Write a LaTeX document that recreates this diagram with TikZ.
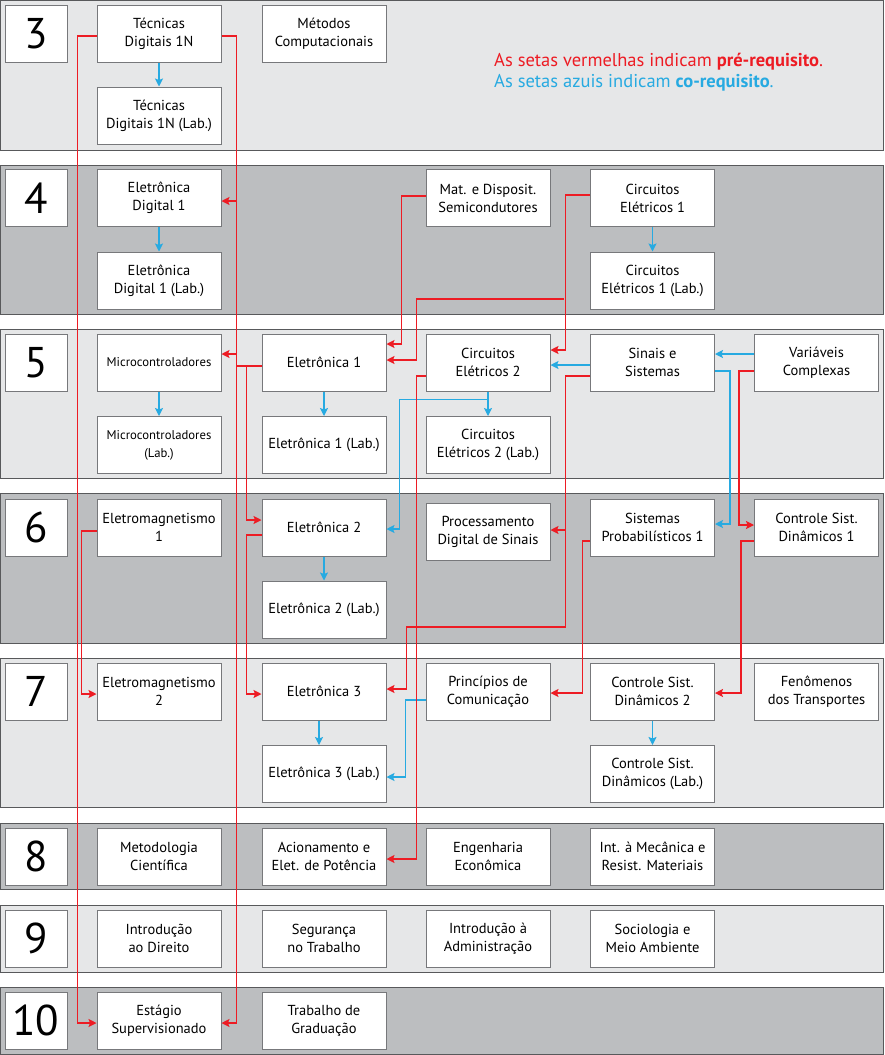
\documentclass[tikz,border=0pt]{standalone}
\usepackage{fontspec}
\setmainfont{PT Sans}
\usetikzlibrary{arrows.meta}

\definecolor{prered}{HTML}{ED1C24}
\definecolor{coblue}{HTML}{27AAE1}
\definecolor{bandlight}{HTML}{E6E7E8}
\definecolor{banddark}{HTML}{BCBEC0}
\definecolor{boxline}{HTML}{77787B}
\definecolor{bandline}{HTML}{58595B}

\tikzset{
  course/.style={draw=boxline, fill=white, line width=1pt, minimum width=124pt,
    minimum height=57pt, inner sep=1pt, align=center,
    font=\fontsize{14.5}{18}\selectfont},
  semnum/.style={course, minimum width=62pt, font=\fontsize{43}{43}\selectfont},
  preline/.style={draw=prered, line width=1.2pt},
  pre/.style={preline, -{Stealth[length=8pt,width=8pt,inset=1.5pt]}},
  co/.style={draw=coblue, line width=1.2pt, -{Stealth[length=8pt,width=8pt,inset=1.5pt]}},
}

\begin{document}
\begin{tikzpicture}[x=1pt,y=-1pt]
  \useasboundingbox (0,0) rectangle (884,1055);

  \foreach \top/\bot/\shade in {0/150/bandlight, 165/314/banddark, 329/478/bandlight,
      493/643/banddark, 658/807/bandlight, 823/889/banddark, 905/972/bandlight,
      987/1054/banddark}
    \filldraw[fill=\shade, draw=bandline, line width=1pt] (0.5,\top+0.5) rectangle (883.5,\bot);

  % semestre 3
  \node[semnum] (s3) at (36,33.5) {3};
  \node[course] (td1n) at (159,33.5) {Técnicas\\Digitais 1N};
  \node[course] (metcomp) at (324,33.5) {Métodos\\Computacionais};
  \node[course] (td1nlab) at (159,115.5) {Técnicas\\Digitais 1N (Lab.)};
  \node[anchor=west, inner sep=0, text=prered, font=\fontsize{18.5}{18.5}\selectfont] (legpre)
    at (494,62) {As setas vermelhas indicam \textbf{pré-requisito}.};
  \node[anchor=west, inner sep=0, text=coblue, font=\fontsize{18.5}{18.5}\selectfont] (legco)
    at (494,83) {As setas azuis indicam \textbf{co-requisito}.};

  % semestre 4
  \node[semnum] (s4) at (36,198) {4};
  \node[course] (eldig) at (159,198) {Eletrônica\\Digital 1};
  \node[course] (matsemi) at (488,198) {Mat. e Disposit.\\Semicondutores};
  \node[course] (circ1) at (652.5,198) {Circuitos\\Elétricos 1};
  \node[course] (eldiglab) at (159,280.5) {Eletrônica\\Digital 1 (Lab.)};
  \node[course] (circ1lab) at (652.5,280.5) {Circuitos\\Elétricos 1 (Lab.)};

  % semestre 5
  \node[semnum] (s5) at (36,362.5) {5};
  \node[course, font=\fontsize{12.7}{18}\selectfont] (micro) at (159,362.5) {Microcontroladores};
  \node[course] (elet1) at (324,362.5) {Eletrônica 1};
  \node[course] (circ2) at (488,362.5) {Circuitos\\Elétricos 2};
  \node[course] (sinais) at (652.5,362.5) {Sinais e\\Sistemas};
  \node[course] (varcomp) at (816.5,362.5) {Variáveis\\Complexas};
  \node[course, font=\fontsize{12.7}{18}\selectfont] (microlab) at (159,445) {Microcontroladores\\(Lab.)};
  \node[course] (elet1lab) at (324,445) {Eletrônica 1 (Lab.)};
  \node[course] (circ2lab) at (488,445) {Circuitos\\Elétricos 2 (Lab.)};

  % semestre 6
  \node[semnum] (s6) at (36,527.5) {6};
  \node[course] (emag1) at (159,527.5) {Eletromagnetismo\\1};
  \node[course] (elet2) at (324,527.5) {Eletrônica 2};
  \node[course] (pds) at (488,532) {Processamento\\Digital de Sinais};
  \node[course] (probab) at (652.5,527.5) {Sistemas\\Probabilísticos 1};
  \node[course] (ctrl1) at (816.5,527.5) {Controle Sist.\\Dinâmicos 1};
  \node[course] (elet2lab) at (324,609.5) {Eletrônica 2 (Lab.)};

  % semestre 7
  \node[semnum] (s7) at (36,691.5) {7};
  \node[course] (emag2) at (159,691.5) {Eletromagnetismo\\2};
  \node[course] (elet3) at (324,691.5) {Eletrônica 3};
  \node[course] (princom) at (488,691.5) {Princípios de\\Comunicação};
  \node[course] (ctrl2) at (652.5,691.5) {Controle Sist.\\Dinâmicos 2};
  \node[course] (fenom) at (816.5,691.5) {Fenômenos\\dos Transportes};
  \node[course] (elet3lab) at (324,774) {Eletrônica 3 (Lab.)};
  \node[course] (ctrllab) at (652.5,774) {Controle Sist.\\Dinâmicos (Lab.)};

  % semestres 8, 9 e 10
  \node[semnum] (s8) at (36,856.5) {8};
  \node[course] (metod) at (159,856.5) {Metodologia\\Científica};
  \node[course] (acion) at (324,856.5) {Acionamento e\\Elet. de Potência};
  \node[course] (engeco) at (488,856.5) {Engenharia\\Econômica};
  \node[course] (mecres) at (652.5,856.5) {Int. à Mecânica e\\Resist. Materiais};

  \node[semnum] (s9) at (36,938.5) {9};
  \node[course] (direito) at (159,938.5) {Introdução\\ao Direito};
  \node[course] (segur) at (324,938.5) {Segurança\\no Trabalho};
  \node[course] (admin) at (488,938.5) {Introdução à\\Administração};
  \node[course] (socio) at (652.5,938.5) {Sociologia e\\Meio Ambiente};

  \node[semnum] (s10) at (36,1020.5) {10};
  \node[course] (estagio) at (159,1020.5) {Estágio\\Supervisionado};
  \node[course] (tcc) at (324,1020.5) {Trabalho de\\Graduação};

  % co-requisitos
  \draw[co] (td1n) -- (td1nlab);
  \draw[co] (eldig) -- (eldiglab);
  \draw[co] (circ1) -- (circ1lab);
  \draw[co] (micro) -- (microlab);
  \draw[co] (elet1) -- (elet1lab);
  \draw[co] (circ2) -- (circ2lab);
  \draw[co] (elet2) -- (elet2lab);
  \draw[co] ([xshift=-5pt]elet3.south) -- ([xshift=-5pt]elet3lab.north);
  \draw[co] (ctrl2) -- (ctrllab);
  \draw[co] ([yshift=8.5pt]varcomp.west) -- ([yshift=8.5pt]sinais.east);
  \draw[co] ([yshift=-2.5pt]sinais.west) -- ([yshift=-2.5pt]circ2.east);
  \draw[co] ([yshift=-8.5pt]sinais.east) -| ([xshift=15pt,yshift=3.5pt]probab.east)
    -- ([yshift=3.5pt]probab.east);
  \draw[co] (circ2.south) -- ++(0,8) -| ([xshift=13pt,yshift=-1.5pt]elet2.east)
    -- ([yshift=-1.5pt]elet2.east);
  \draw[co] ([yshift=-8.5pt]princom.west) -| ([xshift=19pt,yshift=-3pt]elet3lab.east)
    -- ([yshift=-3pt]elet3lab.east);

  % pre-requisitos
  \draw[pre] ([yshift=-2.5pt]td1n.west) -| ([xshift=-19pt,yshift=-2.5pt]estagio.west)
    -- ([yshift=-2.5pt]estagio.west);
  \draw[pre] ([yshift=-2.5pt]td1n.east) -| ([xshift=15pt,yshift=-2.5pt]estagio.east)
    -- ([yshift=-2.5pt]estagio.east);
  \draw[pre] ([xshift=15pt,yshift=-3pt]eldig.east) -- ([yshift=-3pt]eldig.east);
  \draw[pre] ([xshift=15pt,yshift=8.5pt]micro.east) -- ([yshift=8.5pt]micro.east);
  \draw[pre] ([yshift=2pt]matsemi.west) -| ([xshift=15pt,yshift=18.5pt]elet1.east)
    -- ([yshift=18.5pt]elet1.east);
  \draw[pre] ([yshift=3pt]circ1.west) -| ([xshift=15pt,yshift=12.5pt]circ2.east)
    -- ([yshift=12.5pt]circ2.east);
  \draw[pre] ([xshift=-26pt,yshift=-101pt]circ1.west) -| ([xshift=30pt,yshift=2.5pt]elet1.east)
    -- ([yshift=2.5pt]elet1.east);
  \draw[preline] ([yshift=-3.5pt]elet1.west) -- ++(-26,0);
  \draw[pre] ([yshift=-3.5pt]elet1.west) -| ([xshift=-15pt,yshift=7.5pt]elet2.west)
    -- ([yshift=7.5pt]elet2.west);
  \draw[pre] ([yshift=-7.5pt]elet2.west) -| ([xshift=-15pt,yshift=-2.5pt]elet3.west)
    -- ([yshift=-2.5pt]elet3.west);
  \draw[pre] ([yshift=-3.5pt]emag1.west) -| ([xshift=-15pt,yshift=-2.5pt]emag2.west)
    -- ([yshift=-2.5pt]emag2.west);
  \draw[pre] ([yshift=-13.5pt]circ2.west) -| ([xshift=30pt,yshift=-2.5pt]acion.east)
    -- ([yshift=-2.5pt]acion.east);
  \draw[pre] ([yshift=-13.5pt]sinais.west) -| ([xshift=15pt,yshift=2pt]pds.east)
    -- ([yshift=2pt]pds.east);
  \draw[pre] ([yshift=-13.5pt]sinais.west) -| ([xshift=15pt,yshift=-95pt]pds.east)
    -| ([xshift=20pt,yshift=2.5pt]elet3.east) -- ([yshift=2.5pt]elet3.east);
  \draw[pre] ([yshift=-8.5pt]varcomp.west) -| ([xshift=-15pt,yshift=2.5pt]ctrl1.west)
    -- ([yshift=2.5pt]ctrl1.west);
  \draw[pre] ([yshift=-13.5pt]probab.west) -| ([xshift=32pt,yshift=-1.5pt]princom.east)
    -- ([yshift=-1.5pt]princom.east);
  \draw[pre] ([yshift=-13.5pt]ctrl1.west) -| ([xshift=26pt,yshift=-1.5pt]ctrl2.east)
    -- ([yshift=-1.5pt]ctrl2.east);
\end{tikzpicture}
\end{document}
